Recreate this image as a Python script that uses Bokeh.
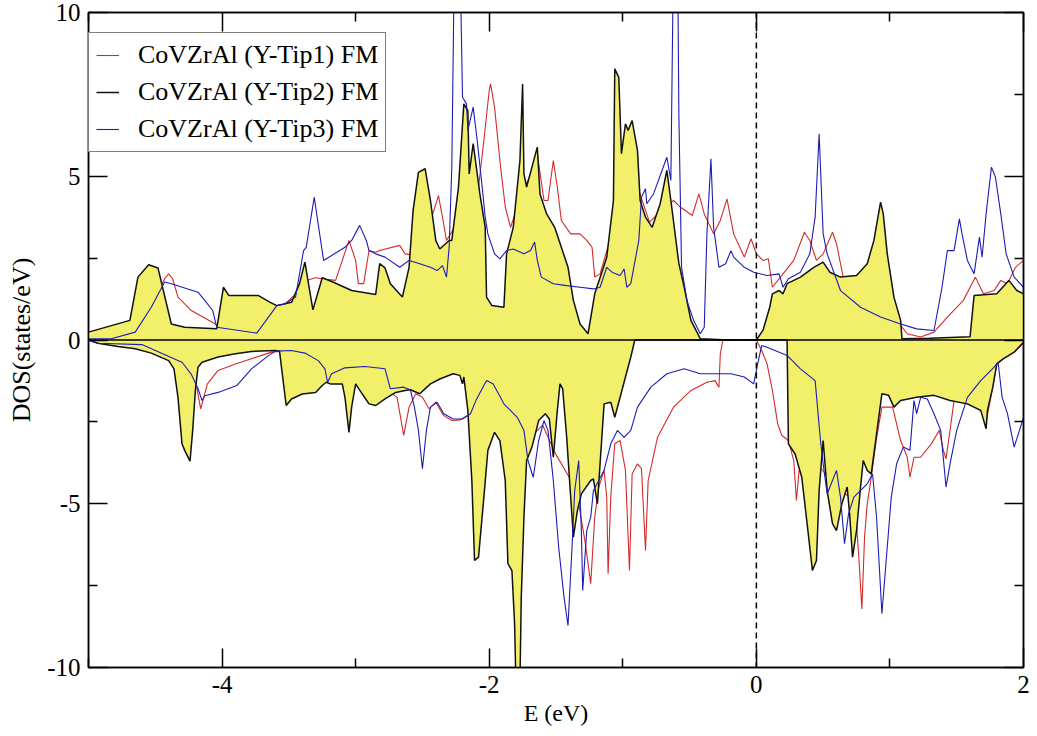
from bokeh.plotting import figure
from bokeh.models import (Range1d, FixedTicker, LinearAxis, Span, Legend, LegendItem,
                          CustomJSTickFormatter)
from bokeh.embed import file_html
from bokeh.resources import INLINE

# ---------------- data ----------------
# Y-Tip1 (red) spin up
e_red_up = [-5.0, -4.83, -4.65, -4.53, -4.43, -4.40, -4.37, -4.33, -4.23, -4.05, -4.0, -3.74, -3.59, -3.53, -3.45,
            -3.38, -3.3, -3.22, -3.15, -3.05, -3.0, -2.98, -2.94, -2.9, -2.85, -2.82, -2.67, -2.63, -2.58, -2.5,
            -2.45, -2.43, -2.38, -2.35, -2.32, -2.25, -2.18, -2.12, -2.08, -2.04, -2.0, -1.99, -1.96, -1.92, -1.88,
            -1.84, -1.78, -1.72, -1.66, -1.64, -1.59, -1.56, -1.52, -1.49, -1.46, -1.39, -1.32, -1.27, -1.23, -1.21,
            -1.17, -1.1, -1.0, -0.9, -0.8, -0.7, -0.62, -0.57, -0.48, -0.43, -0.39, -0.32, -0.27, -0.22, -0.17,
            -0.09, -0.04, 0.0, 0.05, 0.09, 0.12, 0.20, 0.28, 0.36, 0.40, 0.45, 0.50, 0.57, 0.60, 0.65, 0.75, 0.88,
            1.03, 1.13, 1.23, 1.33, 1.43, 1.55, 1.64, 1.70, 1.78, 1.83, 1.88, 1.94, 2.0]
dos_red_up = [0.02, 0.04, 0.24, 1.0, 1.87, 2.02, 1.87, 1.31, 0.9, 0.49, 0.3, 0.21, 1.05, 1.1, 1.4,
              1.8, 1.9, 1.85, 1.82, 3.04, 2.43, 1.72, 1.72, 2.73, 2.68, 2.73, 2.89, 2.63, 2.6, 2.7,
              3.2, 3.75, 4.41, 3.75, 3.04, 3.5, 4.0, 3.8, 4.67, 6.09, 7.62, 7.82, 7.11, 5.48, 4.06,
              3.44, 4.2, 4.8, 5.2, 5.69, 4.26, 4.26, 5.48, 4.67, 3.65, 3.24, 3.24, 3.04, 2.83, 1.92,
              2.02, 3.0, 4.5, 4.8, 3.6, 4.0, 4.26, 4.06, 3.8, 4.46, 3.85, 3.24, 3.65, 4.31, 3.24,
              2.53, 3.09, 2.63, 2.43, 2.48, 1.61, 2.02, 2.43, 3.29, 3.04, 2.43, 2.63, 3.29, 2.94, 1.92, 1.82, 1.51,
              0.7, 0.19, 0.09, 0.24, 0.7, 1.21, 1.92, 1.41, 1.51, 1.82, 1.72, 2.22, 2.43]

# Y-Tip2 (black, filled) spin up
e_blk_up = [-5.0, -4.69, -4.63, -4.55, -4.48, -4.38, -4.28, -4.04, -3.99, -3.95, -3.73, -3.64, -3.59, -3.48, -3.42,
            -3.38, -3.32, -3.25, -3.17, -3.03, -2.85, -2.82, -2.78, -2.74, -2.65, -2.60, -2.57, -2.53, -2.48, -2.44,
            -2.40, -2.37, -2.30, -2.28, -2.23, -2.19, -2.16, -2.15, -2.12, -2.07, -2.03, -2.02, -1.98, -1.89, -1.87,
            -1.82, -1.77, -1.75, -1.74, -1.72, -1.68, -1.64, -1.62, -1.57, -1.51, -1.41, -1.37, -1.32, -1.26, -1.21,
            -1.12, -1.07, -1.06, -1.03, -1.01, -0.98, -0.96, -0.93, -0.89, -0.87, -0.83, -0.78, -0.72, -0.67, -0.64,
            -0.58, -0.54, -0.49, -0.42, -0.2, 0.0, 0.05, 0.1, 0.12, 0.17, 0.20, 0.23, 0.33, 0.43, 0.50, 0.55, 0.63,
            0.75, 0.83, 0.88, 0.93, 0.95, 0.98, 1.03, 1.08, 1.09, 1.3, 1.6, 1.63, 1.80, 1.89, 1.95, 2.0]
dos_blk_up = [0.24, 0.6, 1.92, 2.3, 2.2, 0.49, 0.39, 0.34, 1.61, 1.36, 1.36, 1.15, 1.05, 1.15, 1.72,
              2.38, 0.92, 1.9, 1.77, 1.51, 1.39, 2.33, 2.2, 1.72, 1.31, 2.22, 3.95, 5.12, 5.23, 4.26,
              3.04, 2.78, 3.04, 3.04, 4.67, 7.21, 7.0, 5.07, 6.0, 4.46, 3.44, 1.31, 1.05, 1.0, 2.63,
              3.44, 5.48, 7.82, 5.07, 4.67, 5.28, 5.89, 4.46, 3.85, 3.44, 2.22, 1.21, 0.49, 0.19, 1.41,
              2.53, 4.26, 8.28, 8.02, 5.69, 6.6, 6.4, 6.7, 5.79, 4.26, 3.75, 3.44, 4.16, 5.18, 4.26,
              2.33, 1.61, 0.6, 0.04, 0.0, 0.0, 0.3, 1.0, 1.41, 1.51, 1.41, 1.72, 1.92, 2.22, 2.38, 2.07, 1.92,
              1.97, 2.33, 3.04, 4.21, 3.85, 2.63, 1.31, 0.6, 0.04, 0.05, 0.1, 1.36, 1.41, 1.82, 1.51, 1.41]

# Y-Tip3 (blue) spin up
e_blu_up = [-5.0, -4.83, -4.65, -4.53, -4.43, -4.38, -4.18, -4.13, -4.07, -4.04, -3.74, -3.59, -3.53, -3.45, -3.39,
            -3.37, -3.31, -3.24, -3.08, -3.03, -2.97, -2.92, -2.90, -2.85, -2.78, -2.67, -2.60, -2.52, -2.44, -2.39,
            -2.35, -2.32, -2.30, -2.28, -2.26, -2.22, -2.20, -2.17, -2.16, -2.12, -2.09, -2.05, -2.03, -2.01, -1.96,
            -1.92, -1.87, -1.82, -1.74, -1.69, -1.66, -1.64, -1.61, -1.52, -1.42, -1.32, -1.22, -1.17, -1.12, -1.08,
            -1.02, -0.99, -0.97, -0.94, -0.88, -0.86, -0.83, -0.82, -0.77, -0.67, -0.64, -0.62, -0.59, -0.58, -0.56,
            -0.52, -0.47, -0.42, -0.39, -0.37, -0.34, -0.32, -0.28, -0.23, -0.19, -0.17, -0.09, -0.02, 0.08, 0.17,
            0.20, 0.24, 0.33, 0.40, 0.44, 0.47, 0.48, 0.50, 0.53, 0.63, 0.78, 0.93, 1.08, 1.20, 1.33, 1.39, 1.43,
            1.48, 1.52, 1.54, 1.58, 1.63, 1.67, 1.69, 1.72, 1.76, 1.79, 1.83, 1.87, 1.93, 2.0]
dos_blu_up = [0.04, 0.04, 0.24, 1.0, 1.77, 1.72, 1.46, 1.21, 0.9, 0.39, 0.21, 1.05, 1.1, 1.31, 2.73,
              2.83, 4.36, 2.43, 2.83, 3.04, 3.5, 3.04, 2.73, 2.63, 2.53, 2.22, 2.43, 2.33, 2.22, 2.12,
              2.27, 1.92, 2.83, 5.28, 12.0, 12.0, 7.41, 7.21, 6.4, 7.11, 6.09, 4.56, 3.75, 3.24, 2.63,
              2.48, 2.73, 2.78, 2.63, 2.73, 2.99, 2.43, 1.92, 1.72, 1.66, 1.61, 1.56, 1.61, 2.22, 2.07,
              1.97, 2.17, 1.61, 1.72, 3.04, 4.36, 4.62, 4.16, 4.46, 5.58, 4.87, 12.0, 12.0, 6.85, 2.22,
              1.21, 0.6, 0.19, 0.39, 3.24, 5.53, 3.44, 2.22, 2.33, 2.73, 2.53, 2.22, 2.07, 1.97, 2.02,
              1.61, 1.87, 2.07, 2.63, 3.75, 6.3, 5.28, 3.24, 2.63, 1.51, 1.0, 0.7, 0.49, 0.34, 0.29, 1.61, 2.73,
              2.73, 3.7, 3.24, 2.43, 2.02, 3.14, 2.53, 3.85, 5.28, 4.97, 3.85, 2.63, 1.92, 1.61]

# Y-Tip1 (red) spin down
e_red_dn = [-5.0, -4.93, -4.60, -4.39, -4.30, -4.23, -4.19, -4.16, -4.15, -4.11, -4.03, -3.90, -3.78, -3.63, -3.48,
            -3.38, -3.28, -3.23, -3.18, -3.08, -2.93, -2.80, -2.74, -2.69, -2.64, -2.60, -2.55, -2.50, -2.45, -2.40,
            -2.34, -2.28, -2.22, -2.14, -2.05, -1.95, -1.8, -1.7, -1.6, -1.5, -1.4, -1.33, -1.28, -1.24, -1.21,
            -1.18, -1.14, -1.12, -1.11, -1.09, -1.06, -1.02, -0.98, -0.95, -0.93, -0.89, -0.86, -0.83, -0.81, -0.74,
            -0.62, -0.49, -0.37, -0.31, -0.28, -0.27, -0.25, 0.0, 0.04, 0.08, 0.12, 0.16, 0.19, 0.24, 0.28,
            0.30, 0.32, 0.4, 0.5, 0.6, 0.7, 0.75, 0.77, 0.79, 0.81, 0.83, 0.85, 0.9, 0.94, 1.02, 1.08, 1.13,
            1.15, 1.18, 1.23, 1.31, 1.37, 1.40, 1.42, 1.45, 1.48, 1.58, 1.68, 1.72, 1.77, 1.80, 1.85, 1.93, 2.0]
dos_red_dn = [0.0, -0.1, -0.14, -0.52, -0.73, -1.08, -1.44, -2.1, -1.95, -1.34, -0.93, -0.73, -0.57, -0.37, -0.32,
              -0.4, -0.63, -0.88, -1.05, -0.9, -0.85, -1.2, -1.59, -1.75, -2.91, -2.05, -1.64, -1.75, -2.1, -1.9,
              -2.31, -2.46, -2.44, -2.25, -1.6, -1.8, -2.3, -3.0, -2.6, -3.5, -4.2, -5.0, -6.22, -7.44, -5.41,
              -4.49, -3.98, -4.8, -7.14, -4.8, -3.17, -3.07, -3.98, -7.04, -4.09, -3.78, -3.93, -6.43, -4.29, -2.97,
              -2.05, -1.54, -1.29, -1.24, -1.44, -0.42, 0.0, 0.0, -0.32, -0.73, -1.54, -2.56, -2.91, -3.07, -3.68,
              -4.9, -3.98, -3.5, -4.0, -4.5, -4.8, -5.61, -6.83, -8.21, -6.02, -5.0, -4.49, -3.0, -2.05, -2.05, -3.07, -3.58,
              -4.19, -3.58, -3.58, -3.17, -2.76, -3.37, -3.63, -2.76, -1.85, -1.95, -2.15, -2.5, -1.44, -0.73, -0.57, -0.37, -0.1]

# Y-Tip2 (black, filled) spin down
e_blk_dn = [-5.0, -4.93, -4.78, -4.65, -4.53, -4.40, -4.36, -4.33, -4.30, -4.28, -4.24, -4.22, -4.20, -4.18, -4.15,
            -4.03, -3.90, -3.78, -3.60, -3.57, -3.52, -3.48, -3.40, -3.30, -3.25, -3.22, -3.19, -3.10, -3.08, -3.05,
            -3.03, -3.0, -2.95, -2.90, -2.85, -2.78, -2.70, -2.63, -2.59, -2.52, -2.44, -2.37, -2.27, -2.22, -2.20,
            -2.19, -2.16, -2.13, -2.11, -2.08, -2.04, -2.01, -1.96, -1.92, -1.88, -1.86, -1.83, -1.81, -1.80, -1.77,
            -1.76, -1.74, -1.72, -1.68, -1.63, -1.58, -1.55, -1.52, -1.49, -1.47, -1.45, -1.42, -1.39, -1.37, -1.34,
            -1.31, -1.24, -1.22, -1.19, -1.17, -1.14, -1.09, -1.06, -1.02, -0.98, -0.94, -0.91, 0.22, 0.23, 0.24,
            0.29, 0.34, 0.38, 0.42, 0.45, 0.47, 0.50, 0.53, 0.57, 0.60, 0.64, 0.68, 0.70, 0.72, 0.75, 0.78,
            0.80, 0.83, 0.86, 0.88, 0.92, 0.94, 0.99, 1.03, 1.08, 1.20, 1.33, 1.45, 1.58, 1.68, 1.72, 1.73, 1.77,
            1.80, 1.85, 1.93, 2.0]
dos_blk_dn = [0.0, -0.1, -0.2, -0.27, -0.4, -0.63, -0.88, -1.75, -3.17, -3.37, -3.7, -2.76, -1.54, -0.83, -0.68,
              -0.52, -0.42, -0.35, -0.32, -0.34, -2.0, -1.8, -1.65, -1.6, -1.39, -1.29, -1.34, -1.34, -1.75, -2.82,
              -2.05, -1.34, -1.65, -1.95, -2.0, -1.8, -1.6, -1.54, -1.52, -1.64, -1.34, -1.19, -1.03, -1.08, -1.34,
              -1.13, -2.15, -4.29, -6.73, -6.63, -4.8, -3.37, -2.82, -3.07, -4.29, -6.83, -7.04, -8.67, -10.5, -10.5,
              -7.85, -5.41, -3.68, -3.27, -2.46, -2.25, -2.41, -3.58, -2.15, -1.34, -1.49, -2.97, -4.8, -6.02, -5.21,
              -4.7, -4.29, -4.24, -5.0, -3.78, -1.95, -1.9, -2.36, -1.75, -1.13, -0.52, 0.0, 0.0, 0.0, -3.17,
              -3.48, -4.19, -5.61, -7.04, -6.73, -4.6, -3.07, -4.6, -5.61, -5.82, -5.0, -4.49, -5.41, -6.63, -5.82, -4.49,
              -3.68, -3.98, -4.09, -3.48, -2.25, -1.64, -1.69, -2.05, -1.85, -1.75, -1.69, -1.85, -1.95, -2.15, -2.71, -2.15, -1.44,
              -0.73, -0.57, -0.37, -0.07]

# Y-Tip3 (blue) spin down
e_blu_dn = [-5.0, -4.93, -4.60, -4.39, -4.30, -4.23, -4.18, -4.15, -4.13, -4.03, -3.89, -3.78, -3.65, -3.60, -3.48,
            -3.38, -3.28, -3.23, -3.21, -3.18, -3.08, -2.93, -2.78, -2.74, -2.64, -2.59, -2.56, -2.53, -2.50, -2.47,
            -2.44, -2.39, -2.34, -2.27, -2.20, -2.14, -2.10, -2.02, -1.97, -1.89, -1.79, -1.74, -1.71, -1.67, -1.63,
            -1.59, -1.56, -1.52, -1.48, -1.44, -1.41, -1.38, -1.36, -1.33, -1.31, -1.30, -1.27, -1.24, -1.22, -1.14,
            -1.09, -1.04, -0.99, -0.94, -0.89, -0.79, -0.67, -0.54, -0.42, -0.19, -0.09, -0.02, 0.01, 0.04, 0.08,
            0.23, 0.33, 0.44, 0.48, 0.50, 0.53, 0.57, 0.60, 0.63, 0.66, 0.69, 0.73, 0.83, 0.87, 0.90, 0.94, 0.97,
            1.01, 1.05, 1.10, 1.15, 1.18, 1.20, 1.23, 1.28, 1.33, 1.38, 1.42, 1.45, 1.50, 1.58, 1.68, 1.78, 1.81,
            1.84, 1.88, 1.93, 1.97, 2.0]
dos_blu_dn = [0.0, -0.1, -0.14, -0.52, -0.68, -1.05, -1.49, -1.85, -1.7, -1.6, -1.39, -0.88, -0.47, -0.34, -0.32,
              -0.4, -0.63, -0.88, -1.29, -1.03, -0.85, -0.81, -0.88, -1.49, -1.44, -1.52, -2.05, -2.76, -3.93, -2.76,
              -2.05, -1.9, -2.25, -2.41, -2.41, -2.25, -1.85, -1.24, -1.34, -1.95, -2.36, -2.76, -3.68, -4.19, -3.07,
              -2.46, -2.76, -4.29, -6.33, -7.85, -8.72, -6.33, -4.6, -3.68, -5.82, -7.65, -5.82, -5.41, -4.6, -3.98,
              -3.17, -2.76, -2.97, -2.76, -2.05, -1.44, -1.03, -0.88, -1.03, -1.03, -1.13, -1.34, -0.73, -0.17, -0.22,
              -0.47, -0.88, -1.24, -3.07, -3.78, -4.7, -4.29, -3.98, -4.8, -6.22, -5.31, -4.8, -4.39, -4.09, -5.41, -8.36, -6.83,
              -4.8, -3.78, -3.27, -3.37, -1.85, -2.25, -1.75, -1.8, -2.25, -2.76, -4.49, -3.78, -2.76, -1.75, -1.24, -0.83, -0.68,
              -1.75, -2.25, -3.27, -2.76, -2.36]

legend_labels = ["CoVZrAl (Y-Tip1) FM", "CoVZrAl (Y-Tip2) FM", "CoVZrAl (Y-Tip3) FM"]
x_major = [-4, -2, 0, 2]
x_minor = [-5, -3, -1, 1]
y_major = [-10, -5, 0, 5, 10]
y_minor = [-7.5, -2.5, 2.5, 7.5]

RED = "#d42a2a"
BLACK = "#111111"
BLUE = "#1c1cb4"
FILL = "#f2f06a"
SERIF = "Liberation Serif"

p = figure(width=1037, height=736, x_range=Range1d(-5, 2), y_range=Range1d(-10, 10),
           output_backend="svg", toolbar_location=None,
           min_border_left=88, min_border_right=14, min_border_top=12, min_border_bottom=69)
p.grid.visible = False
p.background_fill_color = "white"
p.border_fill_color = "white"
p.outline_line_color = "black"
p.outline_line_width = 1.5


def style_axis(ax, ticks, minor, labels=True):
    ax.ticker = FixedTicker(ticks=ticks, minor_ticks=minor)
    ax.major_tick_in = 19
    ax.major_tick_out = 0
    ax.minor_tick_in = 9
    ax.minor_tick_out = 0
    ax.major_tick_line_color = "black"
    ax.minor_tick_line_color = "black"
    ax.major_tick_line_width = 1.5
    ax.minor_tick_line_width = 1.5
    ax.axis_line_color = "black"
    ax.axis_line_width = 1.5
    ax.major_label_text_font = SERIF
    ax.major_label_text_color = "black"
    ax.major_label_text_font_size = "25px"
    if labels:
        ax.formatter = CustomJSTickFormatter(code="return String(tick);")
    else:
        ax.formatter = CustomJSTickFormatter(code="return '';")
        ax.major_label_standoff = 0


style_axis(p.xaxis[0], x_major, x_minor)
style_axis(p.yaxis[0], y_major, y_minor)
p.xaxis[0].major_label_standoff = 8
p.yaxis[0].major_label_standoff = 8
p.xaxis[0].axis_label = "E (eV)"
p.yaxis[0].axis_label = "DOS(states/eV)"
for ax in (p.xaxis[0], p.yaxis[0]):
    ax.axis_label_text_font = SERIF
    ax.axis_label_text_font_style = "normal"
    ax.axis_label_text_color = "black"
p.xaxis[0].axis_label_text_font_size = "24px"
p.yaxis[0].axis_label_text_font_size = "26px"
p.xaxis[0].axis_label_standoff = 4
p.yaxis[0].axis_label_standoff = 8

top = LinearAxis()
style_axis(top, x_major, x_minor, labels=False)
p.add_layout(top, "above")
right = LinearAxis()
style_axis(right, y_major, y_minor, labels=False)
p.add_layout(right, "right")

# red first (hidden where the yellow fill lies on it)
r_red_up = p.line(e_red_up, dos_red_up, line_color=RED, line_width=1.1)
r_red_dn = p.line(e_red_dn, dos_red_dn, line_color=RED, line_width=1.1)

# filled black curves
p.varea(x=e_blk_up, y1=0, y2=dos_blk_up, fill_color=FILL)
p.varea(x=e_blk_dn, y1=0, y2=dos_blk_dn, fill_color=FILL)
r_blk_up = p.line(e_blk_up, dos_blk_up, line_color=BLACK, line_width=1.5)
r_blk_dn = p.line(e_blk_dn, dos_blk_dn, line_color=BLACK, line_width=1.5)

r_blu_up = p.line(e_blu_up, dos_blu_up, line_color=BLUE, line_width=1.1)
r_blu_dn = p.line(e_blu_dn, dos_blu_dn, line_color=BLUE, line_width=1.1)

p.add_layout(Span(location=0, dimension="width", line_color="black", line_width=1.5))
p.add_layout(Span(location=0, dimension="height", line_color="black", line_width=1.5, line_dash="6 4"))

legend = Legend(items=[LegendItem(label=legend_labels[0], renderers=[r_red_up]),
                       LegendItem(label=legend_labels[1], renderers=[r_blk_up]),
                       LegendItem(label=legend_labels[2], renderers=[r_blu_up])],
                location=(0, 515))
legend.label_text_font = SERIF
legend.label_text_font_size = "26px"
legend.label_text_color = "black"
legend.glyph_width = 23
legend.glyph_height = 28
legend.label_height = 28
legend.label_standoff = 19
legend.spacing = 7
legend.padding = 7
legend.margin = 0
legend.border_line_color = "black"
legend.border_line_width = 1.5
legend.background_fill_color = "white"
legend.background_fill_alpha = 1.0
p.add_layout(legend, "center")

open("out.html", "w").write(file_html(p, INLINE))
